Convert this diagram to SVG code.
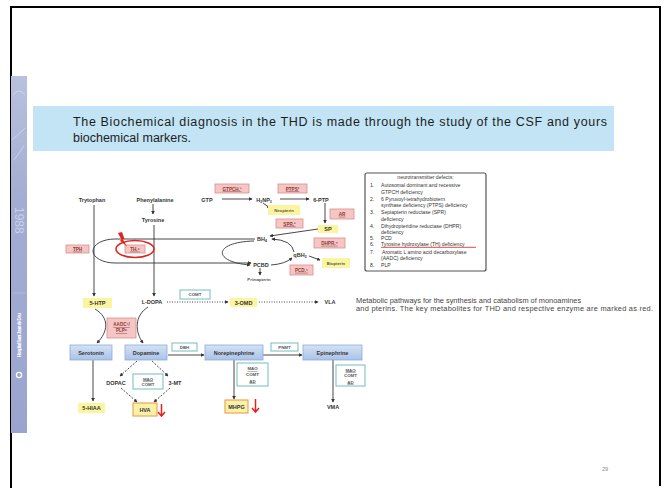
<svg xmlns="http://www.w3.org/2000/svg" width="667" height="488" viewBox="0 0 667 488">
<defs>
<marker id="ah" viewBox="0 0 6 6" refX="5" refY="3" markerWidth="4" markerHeight="4" orient="auto"><path d="M0,0 L6,3 L0,6 z" fill="#333"/></marker>
<linearGradient id="blue" x1="0" y1="0" x2="0" y2="1"><stop offset="0" stop-color="#d4e2f4"/><stop offset="1" stop-color="#a9c3e8"/></linearGradient>
<linearGradient id="strip" x1="0" y1="0" x2="0" y2="1"><stop offset="0" stop-color="#b8c1dd"/><stop offset="0.35" stop-color="#a3add3"/><stop offset="1" stop-color="#9aa5cf"/></linearGradient>
</defs>
<style>
.t{font-family:"Liberation Sans",Arial,sans-serif;font-weight:bold;font-size:5.5px;fill:#333;text-anchor:middle}
.s{font-family:"Liberation Sans",Arial,sans-serif;font-weight:bold;font-size:4.2px;fill:#555;text-anchor:middle}
.pk{fill:#f5c6c4;stroke:#d98e8c;stroke-width:0.8}
.pt{font-family:"Liberation Sans",Arial,sans-serif;font-weight:bold;font-size:4.6px;fill:#8a3a3a;text-anchor:middle;text-decoration:underline}
.yl{fill:#fbf5a0}
.yo{fill:#fbf1a8;stroke:#e8963e;stroke-width:1}
.bl{fill:url(#blue);stroke:#8eaadb;stroke-width:0.8}
.tl{fill:#fff;stroke:#72bdbd;stroke-width:1}
.tt{font-family:"Liberation Sans",Arial,sans-serif;font-weight:bold;font-size:4.4px;fill:#555;text-anchor:middle}
.ln{stroke:#333;stroke-width:0.9;fill:none}
.ar{stroke:#333;stroke-width:0.9;fill:none;marker-end:url(#ah)}
.da{stroke:#333;stroke-width:0.9;fill:none;stroke-dasharray:2 1.5;marker-end:url(#ah)}
.do{stroke:#333;stroke-width:0.9;fill:none;stroke-dasharray:1 1.5;marker-end:url(#ah)}
.nt{font-family:"Liberation Sans",Arial,sans-serif;font-size:5.1px;fill:#333}
.red{stroke:#e3211e;stroke-width:1.5;fill:none}
</style>
<rect width="667" height="488" fill="#fff"/>
<g id="frame" stroke="#000" stroke-width="2" fill="none">
<path d="M11,488 L11,7 L660,7 L660,486"/>
</g>
<g id="strip">
<rect x="11" y="76" width="16" height="357" fill="url(#strip)"/>
<path d="M13,95 q6,-8 12,0 M12,140 l13,-12 M14,160 l10,-14" stroke="#d3d9ec" stroke-width="0.8" fill="none"/>
<line x1="13" y1="293" x2="25" y2="293" stroke="#c5cbe4" stroke-width="0.6"/>
<text x="0" y="0" transform="translate(15,207) rotate(90)" font-family="Liberation Sans,Arial,sans-serif" font-size="12" fill="#c9d0ea">1988</text>
<text x="0" y="0" transform="translate(21,357) rotate(-90)" font-family="Liberation Sans,Arial,sans-serif" font-size="4.5" font-weight="bold" fill="#fff" textLength="44">Hospital Sant Joan de Déu</text>
<circle cx="19" cy="375" r="2.6" fill="none" stroke="#fff" stroke-width="1.2"/>
</g>
<g id="title">
<rect x="33" y="106" width="581" height="45" fill="#c2e4f5"/>
<text x="73" y="126" font-family="Liberation Sans,Arial,sans-serif" font-size="12.5" fill="#1e1e1e" textLength="534" lengthAdjust="spacing">The Biochemical diagnosis in the THD is made through the study of the CSF and yours</text>
<text x="73" y="142" font-family="Liberation Sans,Arial,sans-serif" font-size="12.5" fill="#1e1e1e">biochemical markers.</text>
</g>
<g id="connectors">
<line class="ar" x1="94" y1="205" x2="94" y2="296"/>
<line class="ar" x1="153" y1="204" x2="153" y2="214"/>
<line class="ar" x1="154" y1="225" x2="154" y2="296"/>
<line class="ar" x1="222" y1="199" x2="252" y2="199"/>
<line class="ar" x1="280" y1="199" x2="309" y2="199"/>
<line class="ar" x1="263" y1="203" x2="270" y2="208"/>
<line class="ar" x1="325" y1="203" x2="325" y2="223"/>
<line class="ar" x1="318" y1="229" x2="270" y2="236"/>
<path class="ar" d="M255,239 L115,239 A22,12 0 0 0 115,263 L251,263"/>
<path class="ar" d="M254,241 C213,242 212,262 250,265"/>
<path class="ar" d="M271,265 Q285,264 292,258"/>
<path class="ar" d="M294,252 Q292,240 272,239"/>
<line class="ar" x1="309" y1="256" x2="320" y2="260"/>
<line class="ar" x1="260" y1="268" x2="260" y2="275"/>
<path class="ar" d="M95,309 C110,318 108,332 97,343"/>
<path class="ar" d="M148,307 C134,316 135,332 143,343"/>
<line class="do" x1="167" y1="302" x2="228" y2="302"/>
<line class="do" x1="259" y1="302" x2="318" y2="302"/>
<line class="ar" x1="93" y1="360" x2="93" y2="401"/>
<line class="da" x1="137" y1="361" x2="120" y2="376"/>
<line class="da" x1="152" y1="361" x2="168" y2="376"/>
<line class="da" x1="121" y1="388" x2="137" y2="402"/>
<line class="da" x1="170" y1="388" x2="154" y2="402"/>
<line class="ar" x1="168" y1="355" x2="204" y2="355"/>
<line class="ar" x1="263" y1="355" x2="302" y2="355"/>
<line class="ar" x1="234" y1="360" x2="234" y2="399"/>
<line class="ar" x1="333" y1="360" x2="333" y2="402"/>
</g>
<g id="trytophan"><text class="t" x="92" y="202">Trytophan</text></g>
<g id="phenylalanine"><text class="t" x="155" y="202">Phenylalanine</text></g>
<g id="tyrosine"><text class="t" x="153" y="222">Tyrosine</text></g>
<g id="gtp"><text class="t" x="207" y="202">GTP</text></g>
<g id="h2np3"><text class="t" x="264" y="202">H<tspan font-size="3.5" dy="1">2</tspan><tspan dy="-1">NP</tspan><tspan font-size="3.5" dy="1">3</tspan></text></g>
<g id="ptp6"><text class="t" x="321" y="202">6-PTP</text></g>
<g id="bh4"><text class="t" x="262" y="241">BH<tspan font-size="3.5" dy="1">4</tspan></text></g>
<g id="pcbd"><text class="t" x="261" y="267">PCBD</text></g>
<g id="qbh2"><text class="t" x="300" y="257">qBH<tspan font-size="3.5" dy="1">2</tspan></text></g>
<g id="primapterin"><text class="s" x="259" y="281">Primapterin</text></g>
<g id="ldopa"><text class="t" x="152" y="304">L-DOPA</text></g>
<g id="vla"><text class="t" x="330" y="304">VLA</text></g>
<g id="dopac"><text class="t" x="116" y="385">DOPAC</text></g>
<g id="mt3"><text class="t" x="175" y="385">3-MT</text></g>
<g id="vma"><text class="t" x="333" y="409">VMA</text></g>
<g id="gtpch"><rect class="pk" x="215" y="184" width="34" height="9"/><text class="pt" x="232" y="190.5">GTPCH.¹</text></g>
<g id="ptps"><rect class="pk" x="278" y="184" width="29" height="9"/><text class="pt" x="292.5" y="190.5">PTPS²</text></g>
<g id="ar"><rect class="pk" x="330" y="209" width="24" height="10"/><text class="pt" x="342" y="215.8">AR</text></g>
<g id="spr"><rect class="pk" x="276" y="219" width="27" height="9"/><text class="pt" x="289.5" y="225.5">SPR.³</text></g>
<g id="dhpr"><rect class="pk" x="314" y="238" width="31" height="10"/><text class="pt" x="329.5" y="244.8">DHPR.⁴</text></g>
<g id="pcd"><rect class="pk" x="290" y="265" width="23" height="10"/><text class="pt" x="301.5" y="271.8">PCD.⁵</text></g>
<g id="tph"><rect class="pk" x="66" y="245" width="23" height="8"/><text class="pt" x="77.5" y="250.7">TPH</text></g>
<g id="th"><rect class="pk" x="125" y="245" width="20" height="8"/><text class="pt" x="135" y="250.7">TH.⁶</text>
<ellipse cx="135" cy="249" rx="19" ry="8.5" class="red" stroke-width="1.3"/>
<path d="M118,233 L122,232 L124.5,239 L122.8,239.3 L127,246.5 L119.8,240.5 L121.6,240 Z" fill="#e3211e"/></g>
<g id="aadc"><rect class="pk" x="107" y="318" width="29" height="20" fill="#f1b3b1"/><text class="pt" x="121.5" y="326">AADC⁷/</text><text class="pt" x="121.5" y="332">PLP⁸</text></g>
<g id="neopterin"><rect class="yl" x="268" y="205" width="32" height="10"/><text class="s" x="284" y="211.5" fill="#6b6b2a">Neopterin</text></g>
<g id="sp"><rect class="yl" x="318" y="225" width="20" height="8"/><text class="t" x="328" y="231">SP</text></g>
<g id="biopterin"><rect class="yl" x="322" y="258" width="28" height="10"/><text class="s" x="336" y="264.5" fill="#6b6b2a">Biopterin</text></g>
<g id="htp5"><rect class="yl" x="83" y="298" width="29" height="10"/><text class="t" x="97.5" y="305">5-HTP</text></g>
<g id="omd3"><rect class="yl" x="230" y="298" width="27" height="9"/><text class="t" x="243.5" y="304.5">3-OMD</text></g>
<g id="hiaa5"><rect class="yl" x="78" y="403" width="27" height="10"/><text class="t" x="91.5" y="410">5-HIAA</text></g>
<g id="hva"><rect class="yo" x="133" y="403" width="24" height="13"/><text class="t" x="145" y="411.5">HVA</text>
<path class="red" d="M161.5,404 L161.5,416 M158,412 L161.5,416 L165,412"/></g>
<g id="mhpg"><rect class="yo" x="225" y="400" width="23" height="13"/><text class="t" x="236.5" y="408.5">MHPG</text>
<path class="red" d="M255.5,399 L255.5,412 M252,408 L255.5,412 L259,408"/></g>
<g id="comt"><rect class="tl" x="180" y="290" width="30" height="9"/><text class="tt" x="195" y="296">COMT</text></g>
<g id="dbh"><rect class="tl" x="172" y="343" width="25" height="8"/><text class="tt" x="184.5" y="348.6" font-weight="normal">DBH</text></g>
<g id="pnmt"><rect class="tl" x="271" y="343" width="27" height="8"/><text class="tt" x="284.5" y="348.6" font-weight="normal">PNMT</text></g>
<g id="maocomt"><rect class="tl" x="133" y="374" width="30" height="15"/><text class="tt" x="148" y="380.5" text-decoration="underline">MAO</text><text class="tt" x="148" y="386">COMT</text></g>
<g id="maocomtad1"><rect class="tl" x="237" y="363" width="31" height="23"/><text class="tt" x="252.5" y="370" text-decoration="underline">MAO</text><text class="tt" x="252.5" y="375.5">COMT</text><text class="tt" x="252.5" y="382.5" text-decoration="underline">AD</text></g>
<g id="maocomtad2"><rect class="tl" x="336" y="365" width="29" height="21"/><text class="tt" x="350.5" y="371.5" text-decoration="underline">MAO</text><text class="tt" x="350.5" y="377">COMT</text><text class="tt" x="350.5" y="383.5" text-decoration="underline">AD</text></g>
<g id="serotonin"><rect class="bl" x="70" y="345" width="42" height="15"/><text class="t" x="91" y="354.5">Serotonin</text></g>
<g id="dopamine"><rect class="bl" x="125" y="345" width="42" height="15"/><text class="t" x="146" y="354.5">Dopamine</text></g>
<g id="norepinephrine"><rect class="bl" x="205" y="345" width="58" height="15"/><text class="t" x="234" y="354.5">Norepinephrine</text></g>
<g id="epinephrine"><rect class="bl" x="303" y="345" width="59" height="15"/><text class="t" x="332.5" y="354.5">Epinephrine</text></g>
<g id="defects">
<rect x="365" y="173" width="121" height="98" rx="2" fill="#fff" stroke="#555" stroke-width="1.2"/>
<text class="nt" x="425.5" y="179" text-anchor="middle">neurotransmitter defects:</text>
<text class="nt" x="370" y="187">1.</text><text class="nt" x="381" y="187">Autosomal dominant and recessive</text>
<text class="nt" x="381" y="193.5">GTPCH deficiency</text>
<text class="nt" x="370" y="200.5">2.</text><text class="nt" x="381" y="200.5">6 Pyruvoyl-tetrahydrobiotern</text>
<text class="nt" x="381" y="207">synthase deficiency (PTPS) deficiency</text>
<text class="nt" x="370" y="214">3.</text><text class="nt" x="381" y="214">Sepiapterin reductase (SPR)</text>
<text class="nt" x="381" y="220.5">deficiency</text>
<text class="nt" x="370" y="227.5">4.</text><text class="nt" x="381" y="227.5">Dihydropteridine reductase (DHPR)</text>
<text class="nt" x="381" y="234">deficiency</text>
<text class="nt" x="370" y="240">5.</text><text class="nt" x="381" y="240">PCD</text>
<text class="nt" x="370" y="246">6.</text><text class="nt" x="381" y="246">Tyrosine hydroxylase (TH) deficiency</text>
<line x1="381" y1="247.3" x2="476" y2="247.3" stroke="#d02020" stroke-width="0.8"/>
<text class="nt" x="370" y="253.5">7.</text><text class="nt" x="382" y="253.5">Aromatic L amino acid decarboxylase</text>
<text class="nt" x="381" y="260">(AADC) deficiency</text>
<text class="nt" x="370" y="267">8.</text><text class="nt" x="381" y="267">PLP</text>
</g>
<g id="caption" font-family="Liberation Sans,Arial,sans-serif" font-size="7.4" fill="#444">
<text x="356" y="303">Metabolic pathways for the synthesis and catabolism of monoamines</text>
<text x="356" y="311" textLength="297" lengthAdjust="spacing">and pterins. The key metabolites for THD and respective enzyme are marked as red.</text>
</g>
<g id="pagenum"><text x="605" y="471" font-family="Liberation Sans,Arial,sans-serif" font-size="5.5" fill="#888" text-anchor="middle">29</text></g>
</svg>
